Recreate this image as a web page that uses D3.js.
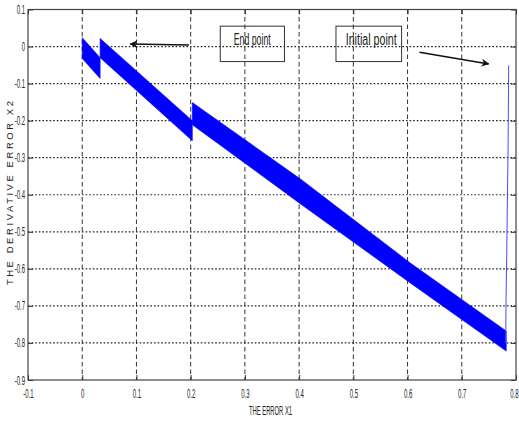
<!DOCTYPE html>
<html>
<head>
<meta charset="utf-8">
<script src="https://cdn.jsdelivr.net/npm/d3@7"></script>
<style>
body { margin: 0; background: #fff; }
text { font-family: "Liberation Sans", Arial, sans-serif; fill: #222; }
</style>
</head>
<body>
<div class="chart"></div>
<script>
var width = 519;
var height = 422;
var margin = {top: 9.5, right: 3, bottom: 42, left: 28};

var xTicks = [-0.1, 0, 0.1, 0.2, 0.3, 0.4, 0.5, 0.6, 0.7, 0.8];
var yTicks = [0.1, 0, -0.1, -0.2, -0.3, -0.4, -0.5, -0.6, -0.7, -0.8, -0.9];

// chattering band along the sliding surface: [x1, upper x2, lower x2]
var band1 = [[0, 0.024, -0.032], [0.033, -0.030, -0.086]];
var band2 = [[0.033, 0.022, -0.030], [0.203, -0.200, -0.254]];
var band3 = [[0.203, -0.151, -0.211], [0.402, -0.357, -0.424], [0.605, -0.584, -0.638], [0.782, -0.768, -0.822]];

// reaching phase from the initial point: [x1, x2]
var reach = [[0.7865, -0.051], [0.7854, -0.272], [0.7828, -0.570], [0.7817, -0.678], [0.781, -0.800]];

// annotations (data coords)
var notes = [
    {label: 'End point', box: [0.2546, 0.373, 0.055, -0.0405], len: 37, tx: 0.3135,
     arrow: [[0.197, 0.004], [0.0886, 0.0068]]},
    {label: 'Initial point', box: [0.468, 0.589, 0.055, -0.0405], len: 51, tx: 0.533,
     arrow: [[0.622, -0.0154], [0.7496, -0.0468]]}
];

var svg = d3.select(".chart")
    .append('svg')
    .attr('width', width)
    .attr('height', height);

var x = d3.scaleLinear().domain([-0.1, 0.8]).range([margin.left, width - margin.right]);
var y = d3.scaleLinear().domain([-0.9, 0.1]).range([height - margin.bottom, margin.top]);

var fmt = function(d){ return String(+d.toFixed(1)); };

// grid
svg.append('g').selectAll('line')
    .data(xTicks.slice(1, -1))
    .enter().append('line')
    .attr('x1', d => x(d)).attr('x2', d => x(d))
    .attr('y1', y(0.1)).attr('y2', y(-0.9))
    .attr('stroke', '#333').attr('stroke-width', 1)
    .attr('stroke-dasharray', '4.5,3');

svg.append('g').selectAll('line')
    .data(yTicks.slice(1, -1))
    .enter().append('line')
    .attr('y1', d => y(d)).attr('y2', d => y(d))
    .attr('x1', x(-0.1)).attr('x2', x(0.8))
    .attr('stroke', '#222').attr('stroke-width', 1.2)
    .attr('stroke-dasharray', '1.6,2');

// band
var area = d3.area()
    .x(d => x(d[0]))
    .y0(d => y(d[2]))
    .y1(d => y(d[1]));

[band1, band2, band3].forEach(function(b){
    svg.append('path')
        .datum(b)
        .attr('d', area)
        .attr('fill', '#0000ff')
        .attr('stroke', '#0000ff')
        .attr('stroke-width', 0.6);
});

svg.append('path')
    .datum(reach)
    .attr('d', d3.line().x(d => x(d[0])).y(d => y(d[1])))
    .attr('fill', 'none')
    .attr('stroke', '#4a4aff')
    .attr('stroke-width', 1);

// axes
var xAxis = svg.append('g')
    .attr('transform', 'translate(0,' + y(-0.9) + ')')
    .call(d3.axisBottom(x).tickValues(xTicks).tickFormat(fmt).tickSizeInner(-5).tickSizeOuter(0).tickPadding(9));
var yAxis = svg.append('g')
    .attr('transform', 'translate(' + x(-0.1) + ',0)')
    .call(d3.axisLeft(y).tickValues(yTicks).tickFormat(fmt).tickSizeInner(-5).tickSizeOuter(0).tickPadding(6.5));
svg.append('g')
    .attr('transform', 'translate(0,' + y(0.1) + ')')
    .call(d3.axisTop(x).tickValues(xTicks).tickFormat('').tickSizeInner(-5).tickSizeOuter(0));
svg.append('g')
    .attr('transform', 'translate(' + x(0.8) + ',0)')
    .call(d3.axisRight(y).tickValues(yTicks).tickFormat('').tickSizeInner(-5).tickSizeOuter(0));

svg.selectAll('.domain').remove();
svg.selectAll('.tick line').attr('stroke', '#333');
svg.selectAll('.tick text')
    .attr('font-size', 12.5)
    .attr('font-family', '"Liberation Sans", Arial, sans-serif')
    .attr('fill', '#333')
    .attr('transform', 'scale(0.48,1)');
yAxis.selectAll('.tick text').attr('x', -3 / 0.48);
// last x label sits on the right edge of the window
xAxis.selectAll('.tick text').filter(d => d === 0.8).attr('x', -2 / 0.48);

svg.append('rect')
    .attr('x', x(-0.1)).attr('y', y(0.1))
    .attr('width', x(0.8) - x(-0.1)).attr('height', y(-0.9) - y(0.1))
    .attr('fill', 'none').attr('stroke', '#444').attr('stroke-width', 1.2);

// titles
svg.append('text')
    .attr('x', 270.5).attr('y', 415)
    .attr('text-anchor', 'middle')
    .attr('font-size', 12.5)
    .attr('textLength', 43)
    .attr('lengthAdjust', 'spacingAndGlyphs')
    .text('THE ERROR X1');

svg.append('text')
    .attr('transform', 'translate(13,193) rotate(-90)')
    .attr('text-anchor', 'middle')
    .attr('font-size', 9.5)
    .attr('textLength', 184)
    .attr('lengthAdjust', 'spacingAndGlyphs')
    .style('white-space', 'pre')
    .text('T H E   D E R I V A T I V E   E R R O R   X 2');

// annotations
var defs = svg.append('defs');
defs.append('marker')
    .attr('id', 'arrow')
    .attr('viewBox', '0 0 10 10')
    .attr('refX', 9).attr('refY', 5)
    .attr('markerUnits', 'userSpaceOnUse')
    .attr('markerWidth', 8).attr('markerHeight', 9)
    .attr('orient', 'auto')
    .append('path')
    .attr('d', 'M0,0 L10,5 L0,10 L3,5 z')
    .attr('fill', '#111');

notes.forEach(function(n){
    svg.append('rect')
        .attr('x', x(n.box[0])).attr('y', y(n.box[2]))
        .attr('width', x(n.box[1]) - x(n.box[0]))
        .attr('height', y(n.box[3]) - y(n.box[2]))
        .attr('fill', 'none').attr('stroke', '#333').attr('stroke-width', 1);
    svg.append('text')
        .attr('x', x(n.tx)).attr('y', 45)
        .attr('text-anchor', 'middle')
        .attr('font-size', 16)
        .attr('textLength', n.len)
        .attr('lengthAdjust', 'spacingAndGlyphs')
        .attr('fill', '#111')
        .text(n.label);
    svg.append('line')
        .attr('x1', x(n.arrow[0][0])).attr('y1', y(n.arrow[0][1]))
        .attr('x2', x(n.arrow[1][0])).attr('y2', y(n.arrow[1][1]))
        .attr('stroke', '#111').attr('stroke-width', 1.5)
        .attr('marker-end', 'url(#arrow)');
});
</script>
</body>
</html>
